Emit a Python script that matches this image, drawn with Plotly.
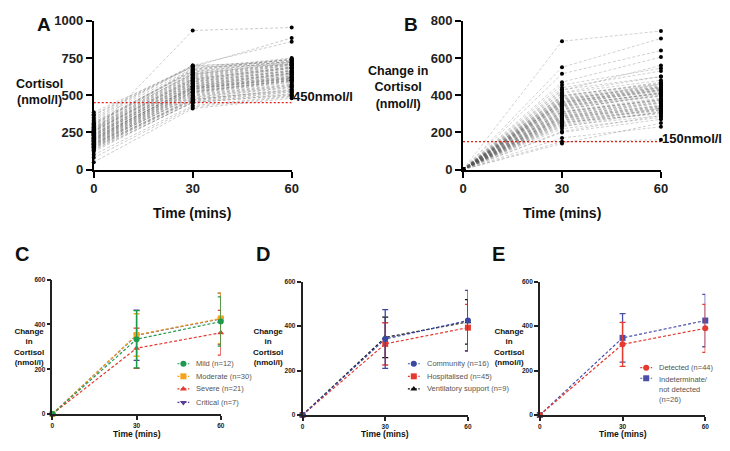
import plotly.graph_objects as go

# The page has an 8px body margin, so the figure is drawn 8px in from the corner
OFF = 8
W, H = 730 - OFF, 451 - OFF
FONT = "Liberation Sans, Arial, sans-serif"

TIME = [0, 30, 60]

# Panel A: serum cortisol (nmol/l) for each patient at 0, 30 and 60 mins
cort_0 = [245, 180, 310, 155, 220, 385, 130, 270, 200, 165,
          295, 240, 175, 350, 210, 260, 145, 190, 330, 225,
          50, 280, 170, 235, 315, 150, 205, 265, 100, 185,
          300, 230, 160, 250, 340, 195, 275, 120, 215, 370,
          170, 255, 140, 290, 205, 80, 235, 180, 320, 260,
          150, 225, 285, 195, 365, 165, 245, 210, 305, 135,
          270, 190, 230, 175, 255, 215, 280, 160, 240, 200]
cort_30 = [935, 520, 640, 470, 560, 690, 450, 610, 545, 490,
           665, 580, 505, 700, 555, 620, 460, 530, 680, 575,
           410, 635, 515, 590, 655, 480, 540, 600, 430, 525,
           670, 565, 495, 600, 695, 535, 625, 455, 550, 700,
           510, 605, 475, 645, 560, 420, 585, 520, 660, 615,
           465, 570, 650, 540, 690, 500, 595, 555, 675, 450,
           630, 525, 575, 485, 610, 550, 640, 470, 590, 545]
cort_60 = [955, 600, 720, 540, 650, 885, 500, 690, 620, 560,
           740, 660, 575, 860, 630, 700, 520, 605, 750, 650,
           480, 710, 590, 665, 730, 550, 615, 680, 495, 600,
           745, 640, 565, 680, 735, 610, 700, 510, 625, 720,
           585, 685, 530, 715, 640, 490, 660, 595, 730, 690,
           525, 645, 725, 615, 705, 570, 670, 630, 740, 505,
           705, 600, 650, 555, 685, 620, 710, 535, 665, 610]

# Panel B: change in cortisol from baseline (nmol/l)
chg_30 = [690, 285, 360, 245, 395, 170, 320, 415, 275, 350,
          550, 230, 310, 380, 265, 440, 300, 205, 370, 335,
          515, 255, 345, 290, 400, 150, 360, 270, 325, 385,
          470, 310, 240, 355, 280, 425, 295, 220, 375, 140,
          340, 455, 265, 305, 390, 330, 250, 365, 285, 410,
          300, 350, 200, 380, 260, 430, 315, 275, 345, 235,
          395, 290, 360, 325, 255, 370, 310, 280, 340, 365]
chg_60 = [745, 360, 440, 330, 470, 230, 405, 500, 340, 430,
          705, 310, 380, 445, 325, 530, 370, 290, 460, 415,
          640, 300, 410, 355, 460, 160, 430, 330, 395, 450,
          605, 375, 310, 420, 345, 560, 365, 280, 440, 250,
          395, 545, 320, 375, 455, 410, 305, 435, 340, 480,
          360, 425, 270, 445, 320, 500, 385, 335, 410, 290,
          465, 345, 425, 400, 315, 440, 375, 330, 415, 430]

THRESH_A = 450
THRESH_B = 150

# Panel C: by severity (mean, SD)
sev_names = ["Mild (n=12)", "Moderate (n=30)", "Severe (n=21)", "Critical (n=7)"]
sev_mean = [[0, 334, 413], [0, 353, 427], [0, 294, 363], [0, 352, 425]]
sev_sd = [[0, 128, 110], [0, 95, 113], [0, 90, 100], [0, 112, 115]]

# Panel D: by care setting
care_names = ["Community (n=16)", "Hospitalised (n=45)", "Ventilatory support (n=9)"]
care_mean = [[0, 342, 425], [0, 320, 393], [0, 349, 419]]
care_sd = [[0, 132, 136], [0, 95, 105], [0, 91, 100]]

# Panel E: by antibody result
ab_names = ["Detected (n=44)", "Indeterminate/<br>not detected<br>(n=26)"]
ab_mean = [[0, 318, 390], [0, 347, 425]]
ab_sd = [[0, 99, 108], [0, 109, 118]]

# Styles
sev_style = [("#1f9a4c", "circle"), ("#f5a31c", "square"),
             ("#e53a2f", "triangle-up"), ("#5a3d9a", "triangle-down")]
care_style = [("#3b48a0", "circle"), ("#e53a2f", "square"), ("#111111", "triangle-up")]
ab_style = [("#e53a2f", "circle"), ("#4a50aa", "square")]


def px(x):
    return (x - OFF) / W


def py(y):
    return 1 - (y - OFF) / H


fig = go.Figure()


def spaghetti(v0, v30, v60):
    xs, ys = [], []
    for a, b, c in zip(v0, v30, v60):
        xs += TIME + [None]
        ys += [a, b, c, None]
    return xs, ys


# Panel A
xs, ys = spaghetti(cort_0, cort_30, cort_60)
fig.add_trace(go.Scatter(x=xs, y=ys, mode="lines", xaxis="x", yaxis="y",
                         line=dict(color="rgba(90,90,90,0.45)", width=0.7, dash="3px,2px"),
                         showlegend=False, hoverinfo="skip"))
fig.add_trace(go.Scatter(x=TIME, y=[THRESH_A] * 3, mode="lines", xaxis="x", yaxis="y",
                         line=dict(color="#e0201b", width=1.3, dash="2px,2px"),
                         showlegend=False))
fig.add_trace(go.Scatter(x=[0] * len(cort_0) + [30] * len(cort_30) + [60] * len(cort_60),
                         y=cort_0 + cort_30 + cort_60, mode="markers", xaxis="x", yaxis="y",
                         marker=dict(color="black", size=4), cliponaxis=False, showlegend=False))

# Panel B
zeros = [0] * len(chg_30)
xs, ys = spaghetti(zeros, chg_30, chg_60)
fig.add_trace(go.Scatter(x=xs, y=ys, mode="lines", xaxis="x2", yaxis="y2",
                         line=dict(color="rgba(90,90,90,0.4)", width=0.7, dash="3px,2px"),
                         showlegend=False, hoverinfo="skip"))
fig.add_trace(go.Scatter(x=TIME, y=[THRESH_B] * 3, mode="lines", xaxis="x2", yaxis="y2",
                         line=dict(color="#e0201b", width=1.3, dash="2px,2px"),
                         showlegend=False))
fig.add_trace(go.Scatter(x=[0] * len(zeros) + [30] * len(chg_30) + [60] * len(chg_60),
                         y=zeros + chg_30 + chg_60, mode="markers", xaxis="x2", yaxis="y2",
                         marker=dict(color="black", size=4), cliponaxis=False, showlegend=False))


def group_panel(ax, names, means, sds, styles):
    n = len(names)
    for i in reversed(range(n)):
        color, sym = styles[i]
        fig.add_trace(go.Scatter(
            x=TIME, y=means[i], mode="lines+markers", xaxis="x" + ax, yaxis="y" + ax,
            line=dict(color=color, width=1.2, dash="3px,2px"),
            marker=dict(color=color, symbol=sym, size=6),
            error_y=dict(type="data", array=sds[i], color=color, thickness=1.3, width=3),
            cliponaxis=False, showlegend=False))


group_panel("3", sev_names, sev_mean, sev_sd, sev_style)
group_panel("4", care_names, care_mean, care_sd, care_style)
group_panel("5", ab_names, ab_mean, ab_sd, ab_style)

# Hand-drawn legends (window-pixel layout on an overlay axis)
legends = [
    (sev_names, sev_style, 182, 193, [369, 382, 395, 409]),
    (care_names, care_style, 416, 427, [369, 382, 395]),
    (ab_names, ab_style, 652, 663, [373, 384]),
]
annotations = []
for names, styles, mx, tx, rows in legends:
    for name, (color, sym), ry in zip(names, styles, rows):
        fig.add_trace(go.Scatter(x=[mx - 6, mx + 6], y=[ry, ry], mode="lines", xaxis="x6", yaxis="y6",
                                 line=dict(color=color, width=1.1, dash="2px,1.5px"),
                                 showlegend=False, hoverinfo="skip"))
        fig.add_trace(go.Scatter(x=[mx], y=[ry], mode="markers", xaxis="x6", yaxis="y6",
                                 marker=dict(color=color, symbol=sym, size=6),
                                 showlegend=False, hoverinfo="skip"))
        annotations.append(dict(x=px(tx), y=py(ry), xref="paper", yref="paper", text=name,
                                showarrow=False, xanchor="left", yanchor="top" if "<br>" in name else "middle",
                                yshift=5 if "<br>" in name else 0, align="left",
                                font=dict(size=7.5, color="#555555", family=FONT)))

big_axis = dict(showline=True, linecolor="black", linewidth=2, ticks="outside", ticklen=6,
                tickwidth=2, tickcolor="black", showgrid=False, zeroline=False,
                tickfont=dict(size=13, family=FONT, color="#222", weight="bold"))
small_axis = dict(showline=True, linecolor="#222", linewidth=1.5, ticks="outside", ticklen=4,
                  tickwidth=1.5, tickcolor="#222", showgrid=False, zeroline=False,
                  tickfont=dict(size=6.5, family=FONT, color="#222", weight="bold"))

layout = dict(
    width=W, height=H, margin=dict(l=0, r=0, t=0, b=0),
    paper_bgcolor="white", plot_bgcolor="rgba(0,0,0,0)", showlegend=False,
    font=dict(family=FONT),
    xaxis=dict(big_axis, domain=[px(91), px(292)], range=[0, 60], tickvals=TIME, anchor="y"),
    yaxis=dict(big_axis, domain=[py(168), py(14)], range=[0, 1000],
               tickvals=[0, 250, 500, 750, 1000], anchor="x"),
    xaxis2=dict(big_axis, domain=[px(466), px(667)], range=[0, 60], tickvals=TIME, anchor="y2"),
    yaxis2=dict(big_axis, domain=[py(168), py(14)], range=[0, 800],
                tickvals=[0, 200, 400, 600, 800], anchor="x2"),
    xaxis3=dict(small_axis, domain=[px(49), px(220)], range=[0, 60], tickvals=TIME, anchor="y3"),
    yaxis3=dict(small_axis, domain=[py(421), py(282)], range=[0, 600],
                tickvals=[0, 200, 400, 600], anchor="x3"),
    xaxis4=dict(small_axis, domain=[px(303), px(471)], range=[0, 60], tickvals=TIME, anchor="y4"),
    yaxis4=dict(small_axis, domain=[py(422), py(284)], range=[0, 600],
                tickvals=[0, 200, 400, 600], anchor="x4"),
    xaxis5=dict(small_axis, domain=[px(544), px(712)], range=[0, 60], tickvals=TIME, anchor="y5"),
    yaxis5=dict(small_axis, domain=[py(422), py(284)], range=[0, 600],
                tickvals=[0, 200, 400, 600], anchor="x5"),
    xaxis6=dict(domain=[0, 1], range=[OFF, OFF + W], visible=False, anchor="y6"),
    yaxis6=dict(domain=[0, 1], range=[OFF + H, OFF], visible=False, anchor="x6"),
)
fig.update_layout(**layout)


def label(x, y, text, size, xanchor="center", color="#111"):
    annotations.append(dict(x=px(x), y=py(y), xref="paper", yref="paper", text=text,
                            showarrow=False, xanchor=xanchor, yanchor="middle", align="center",
                            font=dict(size=size, family=FONT, color=color, weight="bold")))


# Panel letters
label(40, 18, "A", 19)
label(413, 18, "B", 19)
label(18, 255, "C", 20)
label(263, 255, "D", 20)
label(502, 255, "E", 20)

# Axis titles
label(36, 88, "Cortisol<br>(nmol/l)", 12.5)
label(400, 83, "Change in<br>Cortisol<br>(nmol/l)", 12.5)
label(191, 213, "Time (mins)", 14)
label(567, 213, "Time (mins)", 14)
for cx, tx in [(25, 135), (268, 387), (513, 628)]:
    label(cx, 352, "Change<br>in<br>Cortisol<br>(nmol/l)", 8)
    label(tx, 442, "Time (mins)", 8.5)

# Threshold labels
annotations.append(dict(x=60, y=THRESH_A, xref="x", yref="y", text="450nmol/l", showarrow=False,
                        xanchor="left", yanchor="middle", xshift=-1, yshift=6,
                        font=dict(size=13, family=FONT, color="#111", weight="bold")))
annotations.append(dict(x=60, y=THRESH_B, xref="x2", yref="y2", text="150nmol/l", showarrow=False,
                        xanchor="left", yanchor="middle", xshift=-1, yshift=3,
                        font=dict(size=13, family=FONT, color="#111", weight="bold")))

fig.update_layout(annotations=annotations)
fig.write_html("out.html")
